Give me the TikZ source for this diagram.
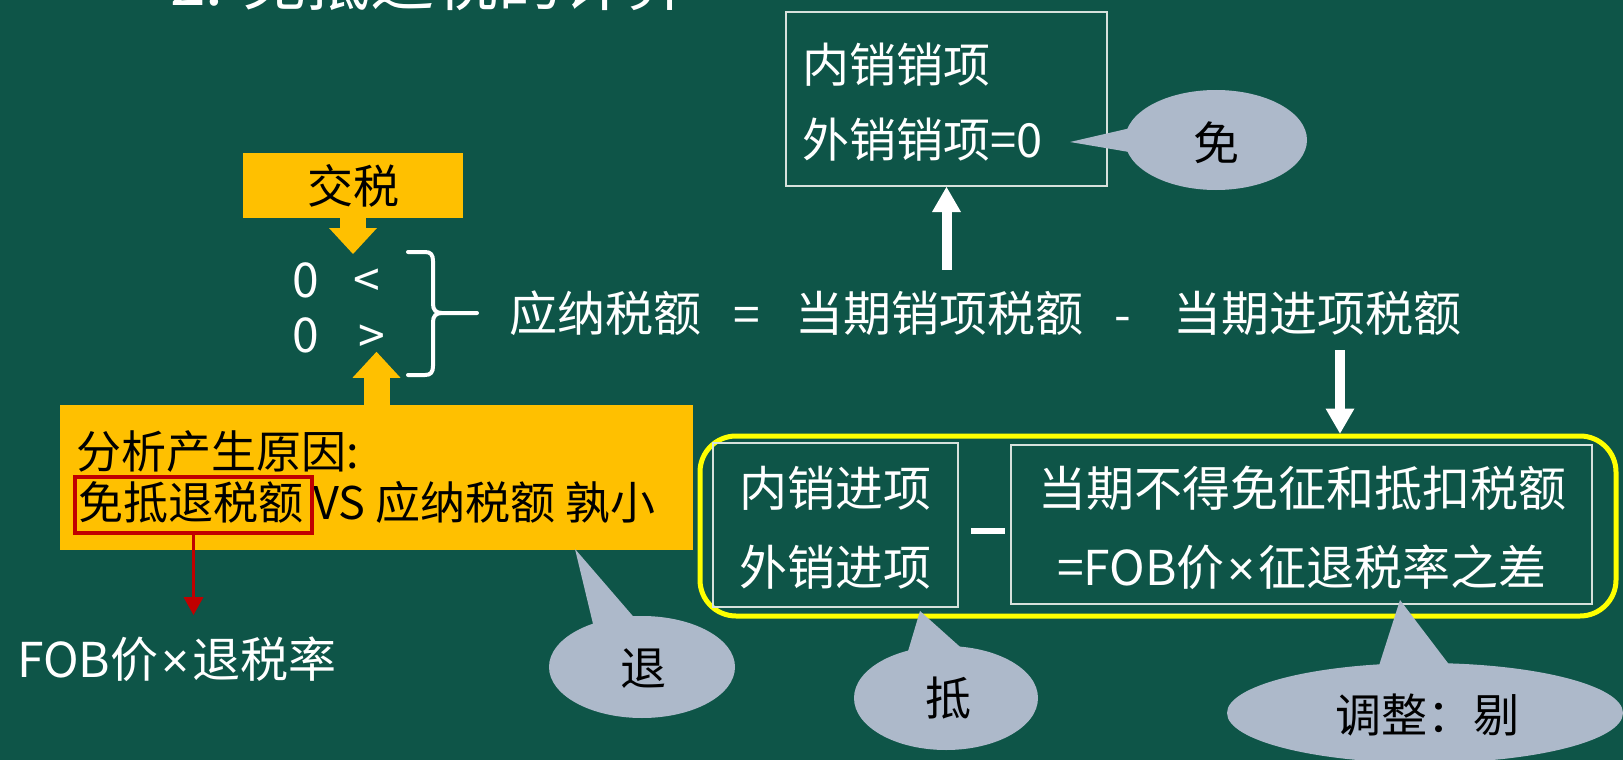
\documentclass[tikz,border=0pt]{standalone}
\usepackage{fontspec}
\setmainfont{Noto Sans CJK SC}
\newfontfamily\latinf{Liberation Sans}
\newcommand\tmsign{\hspace{3pt}{\latinf ×}\hspace{3pt}}
\usetikzlibrary{arrows.meta,calc}
\definecolor{bg}{RGB}{14,85,72}
\definecolor{gold}{RGB}{255,192,0}
\definecolor{bub}{RGB}{173,185,202}
\definecolor{ylw}{RGB}{255,255,0}
\definecolor{redb}{RGB}{192,0,0}
\definecolor{lin}{RGB}{215,225,220}
\begin{document}
\begin{tikzpicture}[x=1pt,y=-1pt,
  wt/.style={text=white,inner sep=0pt,font=\fontsize{48}{56}\selectfont},
  bt/.style={text=black,inner sep=0pt,font=\fontsize{46}{54}\selectfont},
  gt/.style={text=black,inner sep=0pt,font=\fontsize{45}{54}\selectfont,anchor=west},
  wbox/.style={draw=lin,line width=2pt,inner sep=0pt},
  garrow/.style={draw=gold,line width=26pt,-{Triangle[width=48pt,length=26pt,line width=0pt]}},
  warrow/.style={draw=white,line width=10pt,-{Triangle[width=29pt,length=25pt,line width=0pt]}},
  rarrow/.style={draw=redb,line width=3.5pt,-{Triangle[width=20pt,length=18pt,line width=0pt]}},
  bubble/.style={fill=bub},
  bracestyle/.style={draw=white,line width=4pt,line cap=round}
]
\useasboundingbox (0,0) rectangle (1623,760);
\fill[bg] (0,0) rectangle (1623,760);
\clip (0,0) rectangle (1623,760);

% title (cut off at top)
\node[text=white,inner sep=0pt,anchor=base west,font=\fontsize{64}{70}\selectfont] (title) at (170,6) {2. 免抵退税的计算};

% 交税 box
\node[fill=gold,minimum width=220pt,minimum height=65pt,inner sep=0pt] (js) at (353,185.5) {};
\node[text=black,inner sep=0pt,font=\fontsize{46}{54}\selectfont] (jst) at (353,186) {交税};
\coordinate (t1) at (353,254);
\draw[garrow] (js.south) -- (t1);

% 0 < / 0 >
\node[wt] (z1) at (306,280) {0};
\node[wt] (lt) at (367,283) {<};
\node[wt] (z2) at (306,335) {0};
\node[wt] (gtn) at (372,339) {>};

% brace
\draw[bracestyle] (408,252) -- (425,252) .. controls (431,252) and (433,255) .. (433,261) -- (433,304) .. controls (433,310) and (436,313) .. (442,313) -- (477,313);
\draw[bracestyle] (442,313) .. controls (436,313) and (433,316) .. (433,322) -- (433,366) .. controls (433,372) and (431,375) .. (425,375) -- (408,375);

% equation
\node[wt] (ynse) at (605,313) {应纳税额};
\node[wt] (eq) at (747,320) {=};
\node[wt] (xx) at (939,313) {当期销项税额};
\node[wt] (mn) at (1123,325) {-};
\node[wt] (jx) at (1317,313) {当期进项税额};

% top box
\node[wbox,minimum width=321pt,minimum height=174pt] (topbox) at (946.5,99) {};
\node[wt,anchor=west,font=\fontsize{47}{54}\selectfont] (tb1) at (802,65) {内销销项};
\node[wt,anchor=west,font=\fontsize{47}{54}\selectfont] (tb2) at (802,140) {外销销项=0};
\coordinate (ua) at (946.5,270);
\draw[warrow] (ua) -- (topbox.south);

% yellow group
\node[draw=ylw,line width=5pt,rounded corners=36pt,minimum width=916pt,minimum height=180pt,inner sep=0pt] (ybox) at (1158,526) {};
\coordinate (da) at (1340,350);
\draw[warrow] (da) -- (da |- ybox.north);
\node[wbox,minimum width=245pt,minimum height=164pt] (ib1) at (835.5,525) {};
\node[wt] (ib1a) at (835,488) {内销进项};
\node[wt] (ib1b) at (835,567) {外销进项};
\node[wbox,minimum width=581pt,minimum height=159pt] (ib2) at (1301.5,524.5) {};
\node[wt] (ib2a) at (1302,488) {当期不得免征和抵扣税额};
\node[wt] (ib2b) at (1302,567) {=FOB价\tmsign 征退税率之差};
\coordinate (my) at (0,531);
\draw[white,line width=6pt] ([xshift=12pt]ib1.east |- my) -- ([xshift=-5pt]ib2.west |- my);

% gold big box
\node[fill=gold,minimum width=633pt,minimum height=145pt,inner sep=0pt] (gbox) at (376.5,477.5) {};
\draw[garrow] (gbox.north) -- ++(0,-53);
\node[gt] (g1) at (76,452) {分析产生原因:};
\node[gt] (g2) at (78,503) {免抵退税额 VS 应纳税额 孰小};
\node[draw=redb,line width=3.5pt,minimum width=237pt,minimum height=56pt,inner sep=0pt] (redbox) at (193.5,505) {};
\coordinate (rt) at (193.5,615);
\draw[rarrow] (redbox.south) -- (rt);
\node[wt,anchor=west] (fob) at (17,659) {FOB价\tmsign 退税率};

% callouts
\fill[bubble] (1216,140) ellipse [x radius=91, y radius=50];
\fill[bubble] (1070,142) -- (1135,127) -- (1135,153) -- cycle;
\node[bt] (mian) at (1216,143) {免};

\fill[bubble] (642,667) ellipse [x radius=93, y radius=51];
\fill[bubble] (575,549) -- (594,628) -- (638,622) -- cycle;
\node[bt] (tui) at (643,669) {退};

\fill[bubble] (946,698) ellipse [x radius=92, y radius=52];
\fill[bubble] (920,611) -- (906,658) -- (968,654) -- cycle;
\node[bt] (di) at (948,698) {抵};

\fill[bubble] (1425,713) ellipse [x radius=198, y radius=50];
\fill[bubble] (1400,600) -- (1376,675) -- (1457,675) -- cycle;
\node[bt] (tz) at (1427,715) {调整：剔};
\end{tikzpicture}
\end{document}
